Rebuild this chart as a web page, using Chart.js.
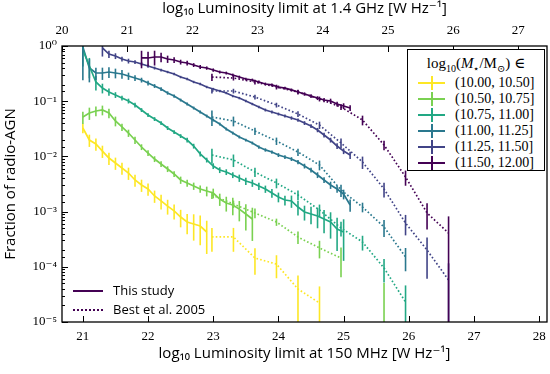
<!DOCTYPE html>
<html>
<head>
<meta charset="utf-8">
<script src="https://cdn.jsdelivr.net/npm/chart.js@4.4.1/dist/chart.umd.min.js"></script>
<style>
  body { margin: 0; background: #fff; }
  #wrap { position: relative; width: 550px; height: 374px; }
  .serif { font-family: 'Liberation Serif', 'DejaVu Serif', serif; }
  #mass-legend {
    position: absolute; left: 407px; top: 49px; width: 138px; height: 122px;
    border: 1px solid #000; background: #fff; box-sizing: border-box;
  }
  #mass-legend .title { font-size: 15px; text-align: center; margin-top: 4px; height: 21px; white-space: nowrap; }
  #mass-legend .row { position: relative; height: 16px; }
  #mass-legend .row span { position: absolute; left: 47px; top: 0; font-size: 14px; line-height: 16px; white-space: nowrap; }
  .cross-h { position: absolute; left: 10px; top: 7px; width: 27px; height: 2px; }
  .cross-v { position: absolute; left: 23px; top: 1px; width: 2px; height: 14px; }
  #style-legend { position: absolute; left: 72px; top: 281px; width: 200px; font-family: 'Open Sans', 'DejaVu Sans', sans-serif; font-size: 13px; }
  #style-legend .row { position: relative; height: 19px; }
  #style-legend .mark { position: absolute; left: 1px; top: 9px; width: 30px; height: 0; }
  #style-legend span { position: absolute; left: 41px; top: 0; line-height: 19px; white-space: nowrap; }
</style>
</head>
<body>
<div id="wrap">
  <canvas id="chart" width="550" height="374"></canvas>
  <div id="mass-legend"></div>
  <div id="style-legend"></div>
</div>
<script>
// Mass bins, colours (viridis)
const massBins = ['(10.00, 10.50]', '(10.50, 10.75]', '(10.75, 11.00]', '(11.00, 11.25]', '(11.25, 11.50]', '(11.50, 12.00]'];
const binColors = ['#fde725', '#7ad151', '#22a884', '#2a788e', '#414487', '#440154'];

// This study: log10 L150 grid, every 0.1 dex
const studyX = [21.0, 21.1, 21.2, 21.3, 21.4, 21.5, 21.6, 21.7, 21.8, 21.9, 22.0, 22.1, 22.2, 22.3, 22.4, 22.5, 22.6, 22.7, 22.8, 22.9,
  23.0, 23.1, 23.2, 23.3, 23.4, 23.5, 23.6, 23.7, 23.8, 23.9, 24.0, 24.1, 24.2, 24.3, 24.4, 24.5, 24.6, 24.7, 24.8, 24.9, 25.0, 25.1];
// index into studyX where each bin starts
const studyStart = [0, 0, 0, 0, 3, 9];

const studyYellow = [0.0327, 0.0198, 0.0168, 0.0125, 0.00935, 0.0076, 0.00617, 0.005, 0.00374, 0.00303,
  0.00257, 0.00192, 0.00156, 0.00126, 0.00103, 0.000798, 0.000648, 0.000596, 0.000548, 0.000427];
const studyGreen = [0.0517, 0.0611, 0.0665, 0.0693, 0.0611, 0.0438, 0.0341, 0.0265, 0.0198, 0.0148,
  0.0115, 0.00897, 0.00729, 0.00591, 0.0048, 0.00374, 0.0033, 0.00291, 0.00257, 0.00236,
  0.00217, 0.00169, 0.00143, 0.00132, 0.00111, 0.000905, 0.000735];
const studyTeal = [0.847, 0.434, 0.223, 0.173, 0.147, 0.13, 0.114, 0.101, 0.0853, 0.0693,
  0.0562, 0.0476, 0.0403, 0.0327, 0.0277, 0.0234, 0.0198, 0.0154, 0.0111, 0.00861,
  0.0067, 0.00567, 0.00522, 0.0046, 0.00406, 0.00358, 0.0033, 0.00291, 0.00257, 0.00217,
  0.00184, 0.00162, 0.00156, 0.00121, 0.000984, 0.000905, 0.000832, 0.000735, 0.000648, 0.000484, 0.000427];
const studyDarkTeal = [0.959, 0.399, 0.324, 0.324, 0.338, 0.324, 0.311, 0.286, 0.263, 0.242,
  0.214, 0.189, 0.166, 0.141, 0.124, 0.105, 0.089, 0.0753, 0.0637, 0.0539,
  0.0456, 0.0386, 0.0313, 0.0265, 0.0225, 0.0198, 0.0175, 0.0148, 0.0131, 0.012,
  0.0106, 0.00975, 0.00897, 0.00792, 0.0067, 0.00567, 0.0046, 0.00374, 0.00303, 0.00257, 0.00208, 0.00132];
const studyBlue = [0.92, 0.716, 0.659, 0.581, 0.535, 0.513, 0.472, 0.434, 0.399, 0.367,
  0.338, 0.311, 0.274, 0.252, 0.223, 0.205, 0.181, 0.166, 0.153, 0.141,
  0.124, 0.114, 0.101, 0.089, 0.0785, 0.0693, 0.0637, 0.0586, 0.0539, 0.0496,
  0.0456, 0.0403, 0.0355, 0.0301, 0.0244, 0.0198, 0.0154, 0.0125, 0.0106];
const studyPurple = [0.607, 0.607, 0.632, 0.632, 0.581, 0.557, 0.513, 0.492, 0.453, 0.417,
  0.399, 0.367, 0.338, 0.324, 0.298, 0.274, 0.252, 0.242, 0.223, 0.205,
  0.197, 0.181, 0.173, 0.16, 0.147, 0.135, 0.124, 0.114, 0.105, 0.101, 0.089, 0.0818, 0.0753];

// relative errors (err / value)
const studyErrYellow = [0.2, 0.25, 0.25, 0.25, 0.25, 0.25, 0.25, 0.25, 0.25, 0.25, 0.25, 0.25, 0.3, 0.3, 0.3, 0.35, 0.4, 0.5, 0.55, 0.6];
const studyErrGreen = [0.25, 0.25, 0.2, 0.2, 0.2, 0.2, 0.15, 0.15, 0.15, 0.12, 0.12, 0.12, 0.12, 0.12, 0.12, 0.15, 0.15, 0.15, 0.15, 0.2,
  0.2, 0.25, 0.3, 0.35, 0.4, 0.5, 0.6];
const studyErrTeal = [0.5, 0.4, 0.3, 0.2, 0.15, 0.12, 0.1, 0.1, 0.1, 0.08, 0.08, 0.08, 0.08, 0.08, 0.08, 0.08, 0.1, 0.1, 0.1, 0.1,
  0.12, 0.12, 0.12, 0.12, 0.15, 0.15, 0.15, 0.15, 0.15, 0.18, 0.2, 0.2, 0.25, 0.3, 0.3, 0.35, 0.4, 0.45, 0.5, 0.6, 0.7];
const studyErrDarkTeal = [0.75, 0.45, 0.25, 0.25, 0.22, 0.2, 0.18, 0.15, 0.12, 0.1, 0.1, 0.08, 0.08, 0.07, 0.07, 0.06, 0.06, 0.06, 0.06, 0.06,
  0.06, 0.06, 0.06, 0.06, 0.06, 0.06, 0.06, 0.07, 0.07, 0.07, 0.08, 0.08, 0.08, 0.09, 0.1, 0.1, 0.12, 0.12, 0.15, 0.15, 0.2, 0.25];
const studyErrBlue = [0.3, 0.15, 0.12, 0.1, 0.1, 0.08, 0.08, 0.07, 0.06, 0.06, 0.05, 0.05, 0.05, 0.05, 0.05, 0.05, 0.05, 0.05, 0.05, 0.05,
  0.05, 0.05, 0.05, 0.05, 0.05, 0.06, 0.06, 0.06, 0.06, 0.07, 0.07, 0.08, 0.08, 0.09, 0.1, 0.1, 0.12, 0.12, 0.15];
const studyErrPurple = [0.35, 0.3, 0.3, 0.2, 0.15, 0.12, 0.1, 0.1, 0.08, 0.08, 0.07, 0.07, 0.06, 0.06, 0.06, 0.06, 0.06, 0.06, 0.06, 0.06,
  0.06, 0.06, 0.06, 0.06, 0.07, 0.07, 0.08, 0.08, 0.09, 0.1, 0.1, 0.12, 0.12];

// Best et al. 2005, converted to 150 MHz
const bestX = [22.98, 23.31, 23.64, 23.97, 24.30, 24.63, 24.96, 25.29, 25.62, 25.95, 26.28, 26.61];
const bestYellow = [0.000347, 0.000347, 0.000144, 0.000112, 0.0000396, 0.0000221];
const bestGreen = [0.002, 0.00137, 0.000944, 0.000648, 0.000347, 0.000219, 0.000144, null, 0];
const bestTeal = [0.0106, 0.00861, 0.00522, 0.0033, 0.002, 0.00107, 0.000505, 0.000281, 0.0000951, 0.000023];
const bestDarkTeal = [0.0517, 0.0438, 0.0288, 0.019, 0.012, 0.00699, 0.00246, 0.00121, 0.000526, 0.000151];
const bestBlue = [0.153, 0.153, 0.119, 0.0853, 0.0586, 0.037, 0.0175, 0.00792, 0.00257, 0.000621, 0.000201, 0.0000577];
const bestPurple = [0.274, 0.263, 0.223, 0.181, 0.147, 0.11, 0.0785, 0.0456, 0.0161, 0.00424, 0.000944, 0.000409];

// absolute errors
const bestErrYellow = [0.00016, 0.00016, 0.000072, 0.00005, 0.00003, 0.000022];
const bestErrGreen = [0.0003, 0.00021, 0.00019, 0.000097, 0.000087, 0.000077, 0.000079, null, 0.000051];
const bestErrTeal = [0.0032, 0.0022, 0.001, 0.00066, 0.0004, 0.00027, 0.00015, 0.000084, 0.000043, 0.000023];
const bestErrDarkTeal = [0.016, 0.0088, 0.0043, 0.0029, 0.0018, 0.0014, 0.00062, 0.00024, 0.00018, 0.000068];
const bestErrBlue = [0.015, 0.015, 0.012, 0.0085, 0.007, 0.0056, 0.0035, 0.002, 0.00077, 0.00025, 0.00014, 0.000058];
const bestErrPurple = [0.041, 0.026, 0.022, 0.018, 0.015, 0.011, 0.0094, 0.0091, 0.0032, 0.0013, 0.00047, 0.00041];

const studySeries = [studyYellow, studyGreen, studyTeal, studyDarkTeal, studyBlue, studyPurple];
const studyErrs = [studyErrYellow, studyErrGreen, studyErrTeal, studyErrDarkTeal, studyErrBlue, studyErrPurple];
const bestSeries = [bestYellow, bestGreen, bestTeal, bestDarkTeal, bestBlue, bestPurple];
const bestErrs = [bestErrYellow, bestErrGreen, bestErrTeal, bestErrDarkTeal, bestErrBlue, bestErrPurple];

// offset between the two frequency axes
const freqShift = 0.68;
const xMin = 20.68, xMax = 28.12;

const serif = "'Liberation Serif', 'DejaVu Serif', serif";
const sans = "'Open Sans', 'DejaVu Sans', sans-serif";

const datasets = [];
studySeries.forEach((vals, b) => {
    const xs = studyX.slice(studyStart[b], studyStart[b] + vals.length);
    datasets.push({
        label: massBins[b],
        data: xs.map((x, i) => ({ x: x, y: vals[i] })),
        xs: xs,
        vals: vals,
        errs: vals.map((v, i) => v * studyErrs[b][i]),
        borderColor: binColors[b],
        borderWidth: 1.7,
        pointRadius: 0,
        tension: 0,
        fill: false
    });
});
bestSeries.forEach((vals, b) => {
    const xs = bestX.slice(0, vals.length);
    datasets.push({
        label: massBins[b] + ' Best',
        data: xs.map((x, i) => ({ x: x, y: vals[i] > 0 ? vals[i] : null })),
        xs: xs,
        vals: vals,
        errs: bestErrs[b],
        borderColor: binColors[b],
        borderWidth: 1.7,
        borderDash: [1.6, 2.2],
        pointRadius: 0,
        tension: 0,
        spanGaps: false,
        fill: false
    });
});

const supMap = { '-': '\u207B', '0': '\u2070', '1': '\u00B9', '2': '\u00B2', '3': '\u00B3', '4': '\u2074', '5': '\u2075', '6': '\u2076', '7': '\u2077', '8': '\u2078', '9': '\u2079' };
function sup(n) { return String(n).split('').map(c => supMap[c]).join(''); }
function isDecade(v) { const l = Math.log10(v); return Math.abs(l - Math.round(l)) < 1e-6; }

// vertical error bars
const errorBars = {
    id: 'errorBars',
    afterDatasetsDraw(chart) {
        const { ctx, chartArea: a, scales } = chart;
        ctx.save();
        ctx.beginPath();
        ctx.rect(a.left, a.top, a.right - a.left, a.bottom - a.top);
        ctx.clip();
        ctx.lineWidth = 1.6;
        chart.data.datasets.forEach(ds => {
            ctx.strokeStyle = ds.borderColor;
            ds.xs.forEach((x, i) => {
                const v = ds.vals[i], e = ds.errs[i];
                if (v === null || e === null) return;
                const px = scales.x.getPixelForValue(x);
                const top = scales.y.getPixelForValue(v + e);
                const bot = v - e > 0 ? scales.y.getPixelForValue(v - e) : a.bottom;
                ctx.beginPath();
                ctx.moveTo(px, Math.max(top, a.top));
                ctx.lineTo(px, Math.min(bot, a.bottom));
                ctx.stroke();
            });
        });
        ctx.restore();
    }
};

// inward ticks and the frame
const frameTicks = {
    id: 'frameTicks',
    afterDraw(chart) {
        const { ctx, chartArea: a, scales } = chart;
        ctx.save();
        ctx.strokeStyle = '#000';
        ctx.lineWidth = 1;
        const seg = (x1, y1, x2, y2) => { ctx.beginPath(); ctx.moveTo(x1, y1); ctx.lineTo(x2, y2); ctx.stroke(); };
        scales.x.ticks.forEach(t => {
            const px = Math.round(scales.x.getPixelForValue(t.value)) + 0.5;
            seg(px, a.bottom, px, a.bottom - 6);
        });
        scales.x2.ticks.forEach(t => {
            const px = Math.round(scales.x2.getPixelForValue(t.value)) + 0.5;
            seg(px, a.top, px, a.top + 6);
        });
        scales.y.ticks.forEach(t => {
            const py = Math.round(scales.y.getPixelForValue(t.value)) + 0.5;
            seg(a.left, py, a.left + (isDecade(t.value) ? 6 : 3), py);
        });
        ctx.lineWidth = 1.3;
        ctx.strokeRect(a.left, a.top, a.right - a.left, a.bottom - a.top);
        ctx.restore();
    }
};

new Chart(document.getElementById('chart'), {
    type: 'line',
    data: { datasets: datasets },
    options: {
        responsive: false,
        animation: false,
        devicePixelRatio: 1,
        layout: { padding: { left: 0, right: 3, top: 0, bottom: 0 } },
        plugins: { legend: { display: false }, tooltip: { enabled: false } },
        scales: {
            x: {
                type: 'linear', position: 'bottom', min: xMin, max: xMax,
                grid: { display: false, drawTicks: false },
                border: { display: false },
                ticks: { stepSize: 1, includeBounds: false, padding: 7, color: '#000', font: { family: serif, size: 13 } },
                title: { display: true, text: 'log\u2081\u2080 Luminosity limit at 150 MHz [W Hz\u207B\u00B9]', color: '#000',
                    font: { family: sans, size: 15 }, padding: { top: 0, bottom: 11 } },
                afterFit: s => { s.height = 52; s.paddingLeft = 0; s.paddingRight = 0; }
            },
            x2: {
                type: 'linear', position: 'top', min: xMin - freqShift, max: xMax - freqShift,
                grid: { display: false, drawTicks: false },
                border: { display: false },
                ticks: { stepSize: 1, includeBounds: false, padding: 8, color: '#000', font: { family: serif, size: 13 } },
                title: { display: true, text: 'log\u2081\u2080 Luminosity limit at 1.4 GHz [W Hz\u207B\u00B9]', color: '#000',
                    font: { family: sans, size: 15 }, padding: { top: 0, bottom: 0 } },
                afterFit: s => { s.height = 46; s.paddingLeft = 0; s.paddingRight = 0; }
            },
            y: {
                type: 'logarithmic', min: 1e-5, max: 1,
                grid: { display: false, drawTicks: false },
                border: { display: false },
                ticks: {
                    autoSkip: false, padding: 5, color: '#000', font: { family: serif, size: 13 },
                    callback: v => isDecade(v) ? '10' + sup(Math.round(Math.log10(v))) : ''
                },
                title: { display: true, text: 'Fraction of radio-AGN', color: '#000',
                    font: { family: sans, size: 15 }, padding: { top: 2, bottom: 0 } },
                afterFit: s => { s.width = 62; s.paddingTop = 0; s.paddingBottom = 0; }
            }
        }
    },
    plugins: [errorBars, frameTicks]
});

// mass-bin legend (upper right)
const massLegend = document.getElementById('mass-legend');
massLegend.innerHTML = '<div class="title serif">log<sub style="font-size:10px">10</sub>(<i>M</i><sub style="font-size:10px">\u22C6</sub>/M<sub style="font-size:10px">\u2299</sub>) \u2208</div>';
massBins.forEach((name, b) => {
    const row = document.createElement('div');
    row.className = 'row';
    row.innerHTML = '<div class="cross-h" style="background:' + binColors[b] + '"></div>' +
        '<div class="cross-v" style="background:' + binColors[b] + '"></div>' +
        '<span class="serif">' + name + '</span>';
    massLegend.appendChild(row);
});

// line-style legend (lower left)
const styleLegend = document.getElementById('style-legend');
[['This study', 'solid'], ['Best et al. 2005', 'dotted']].forEach(([name, style]) => {
    const row = document.createElement('div');
    row.className = 'row';
    row.innerHTML = '<div class="mark" style="border-top:2px ' + style + ' ' + binColors[5] + '"></div><span>' + name + '</span>';
    styleLegend.appendChild(row);
});
</script>
</body>
</html>
